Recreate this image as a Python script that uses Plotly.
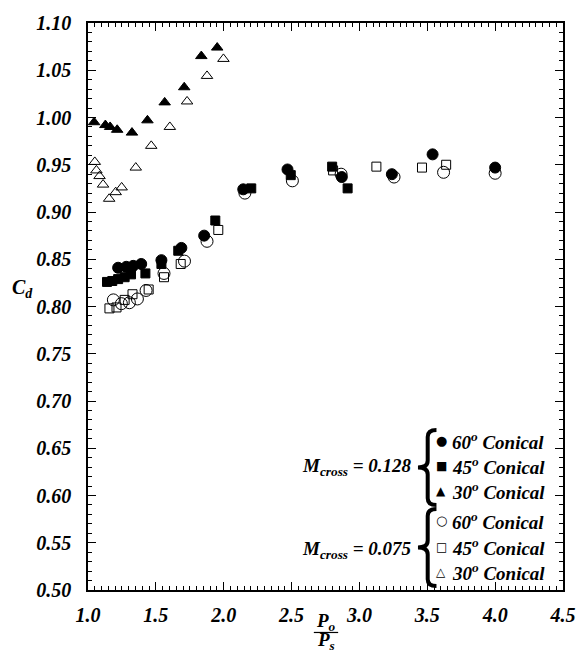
import plotly.graph_objects as go

# Discharge coefficient vs. pressure ratio for conical orifices
# M_cross = 0.128 (filled markers)
p60_hi = [1.222, 1.282, 1.333, 1.392, 1.541, 1.688, 1.856, 2.144, 2.470, 2.870, 3.239, 3.539, 4.000]
cd60_hi = [0.841, 0.842, 0.843, 0.845, 0.849, 0.862, 0.875, 0.924, 0.945, 0.937, 0.940, 0.961, 0.947]
p45_hi = [1.140, 1.179, 1.222, 1.270, 1.317, 1.423, 1.541, 1.665, 1.938, 2.203, 2.494, 2.799, 2.913]
cd45_hi = [0.826, 0.827, 0.829, 0.831, 0.834, 0.835, 0.845, 0.859, 0.891, 0.925, 0.939, 0.948, 0.925]
p30_hi = [1.045, 1.128, 1.163, 1.215, 1.324, 1.438, 1.565, 1.709, 1.835, 1.952]
cd30_hi = [0.995, 0.992, 0.990, 0.987, 0.984, 0.997, 1.016, 1.032, 1.065, 1.074]

# M_cross = 0.075 (open markers)
p60_lo = [1.187, 1.246, 1.305, 1.364, 1.428, 1.560, 1.711, 1.877, 2.156, 2.506, 2.865, 3.255, 3.620, 4.000]
cd60_lo = [0.807, 0.803, 0.804, 0.808, 0.817, 0.835, 0.848, 0.869, 0.920, 0.933, 0.940, 0.937, 0.942, 0.941]
p45_lo = [1.158, 1.210, 1.270, 1.328, 1.447, 1.560, 1.683, 1.960, 2.806, 3.125, 3.461, 3.639]
cd45_lo = [0.798, 0.799, 0.807, 0.813, 0.818, 0.831, 0.845, 0.881, 0.944, 0.948, 0.947, 0.950]
p30_lo = [1.050, 1.062, 1.085, 1.111, 1.156, 1.204, 1.248, 1.352, 1.466, 1.603, 1.730, 1.877, 1.998]
cd30_lo = [0.953, 0.944, 0.938, 0.929, 0.914, 0.921, 0.926, 0.947, 0.970, 0.990, 1.017, 1.044, 1.062]

x_ticks = [1.0, 1.5, 2.0, 2.5, 3.0, 3.5, 4.0, 4.5]
y_ticks = [0.50, 0.55, 0.60, 0.65, 0.70, 0.75, 0.80, 0.85, 0.90, 0.95, 1.00, 1.05, 1.10]

key_angles = ["60", "45", "30"]
mach_labels = ["0.128", "0.075"]

SERIF = "Liberation Serif"
W, H = 588, 652
ML, MR, MT, MB = 88, 12, 16, 62
PW, PH = W - ML - MR, H - MT - MB


def px_to_paper(px, py):
    return (px - ML) / PW, (H - MB - py) / PH


fig = go.Figure()

series = [
    (p60_lo, cd60_lo, "circle-open", 12),
    (p45_lo, cd45_lo, "square-open", 9),
    (p30_lo, cd30_lo, "triangle-up-open", 10),
    (p60_hi, cd60_hi, "circle", 11),
    (p45_hi, cd45_hi, "square", 9),
    (p30_hi, cd30_hi, "triangle-up", 10),
]
for xs, ys, sym, sz in series:
    fig.add_trace(go.Scatter(
        x=xs, y=ys, mode="markers", showlegend=False,
        marker=dict(symbol=sym, size=sz, color="black",
                    line=dict(color="black", width=1)),
    ))

tickfont = dict(family=SERIF, size=20, color="black", weight="bold", style="italic")
axis_common = dict(
    showgrid=False, zeroline=False, showline=True, linecolor="black", linewidth=1.5,
    mirror="allticks", ticks="inside", ticklen=8, tickwidth=1, tickcolor="black",
    tickfont=tickfont,
)
fig.update_xaxes(range=[1.0, 4.5], tickvals=x_ticks,
                 ticktext=[f"<b><i>{v:.1f}</i></b>" for v in x_ticks],
                 minor=dict(dtick=0.05, ticks="inside", ticklen=4, tickcolor="black"),
                 ticklabelstandoff=6, **axis_common)
fig.update_yaxes(range=[0.5, 1.1], tickvals=y_ticks,
                 ticktext=[f"<b><i>{v:.2f}</i></b>" for v in y_ticks],
                 minor=dict(dtick=0.01, ticks="inside", ticklen=4, tickcolor="black"),
                 ticklabelstandoff=11, **axis_common)

annotations = []
shapes = []


def note(px, py, text, size, xanchor="center", family=SERIF):
    x, y = px_to_paper(px, py)
    annotations.append(dict(xref="paper", yref="paper", x=x, y=y,
                            xanchor=xanchor, yanchor="middle", showarrow=False,
                            text=text, font=dict(family=family, size=size, color="black")))


# y-axis title
note(21, 285, "<b><i>C<sub>d</sub></i></b>", 20)

# x-axis title as a fraction P_o / P_s
note(332, 622, "<b><i>P<sub>o</sub></i></b>", 19)
note(332, 642, "<b><i>P<sub>s</sub></i></b>", 19)
bx0, by = px_to_paper(320, 633)
bx1, _ = px_to_paper(345, 633)
shapes.append(dict(type="line", xref="paper", yref="paper", x0=bx0, x1=bx1, y0=by, y1=by,
                   line=dict(color="black", width=1.2)))

# key: glyph + label rows
glyphs = ["\u25CF", "\u25A0", "\u25B2", "\u25CB", "\u25A1", "\u25B3"]
glyph_sizes = [13, 12, 12, 13, 12, 12]
row_y = [439, 464, 490, 520, 546, 572]
for i, (g, gs, py) in enumerate(zip(glyphs, glyph_sizes, row_y)):
    note(451, py, g, gs, family="DejaVu Sans")
    note(460, py, f"<b><i>{key_angles[i % 3]}<sup>o</sup> Conical</i></b>", 19, xanchor="left")

for label, ymid in zip(mach_labels, (465, 549)):
    note(423, ymid, f"<b><i>M<sub>cross</sub> = {label}</i></b>", 19, xanchor="right")


def brace(top, bot, x_end=446, x_spine=437, x_tip=427, r=7):
    mid = (top + bot) / 2
    segs = [
        ("M", [(x_end, top)]),
        ("Q", [(x_spine, top), (x_spine, top + r)]),
        ("L", [(x_spine, mid - r)]),
        ("Q", [(x_spine, mid), (x_tip, mid)]),
        ("Q", [(x_spine, mid), (x_spine, mid + r)]),
        ("L", [(x_spine, bot - r)]),
        ("Q", [(x_spine, bot), (x_end, bot)]),
    ]
    out = []
    for cmd, cps in segs:
        coords = " ".join("{:.5f},{:.5f}".format(*px_to_paper(a, b)) for a, b in cps)
        out.append(f"{cmd} {coords}")
    return " ".join(out)


for top, bot in ((428, 504), (508, 586)):
    shapes.append(dict(type="path", xref="paper", yref="paper", path=brace(top, bot),
                       line=dict(color="black", width=4)))

fig.update_layout(
    width=W, height=H,
    margin=dict(l=ML, r=MR, t=MT, b=MB),
    paper_bgcolor="white", plot_bgcolor="white",
    annotations=annotations, shapes=shapes,
)

fig.write_html("out.html")
